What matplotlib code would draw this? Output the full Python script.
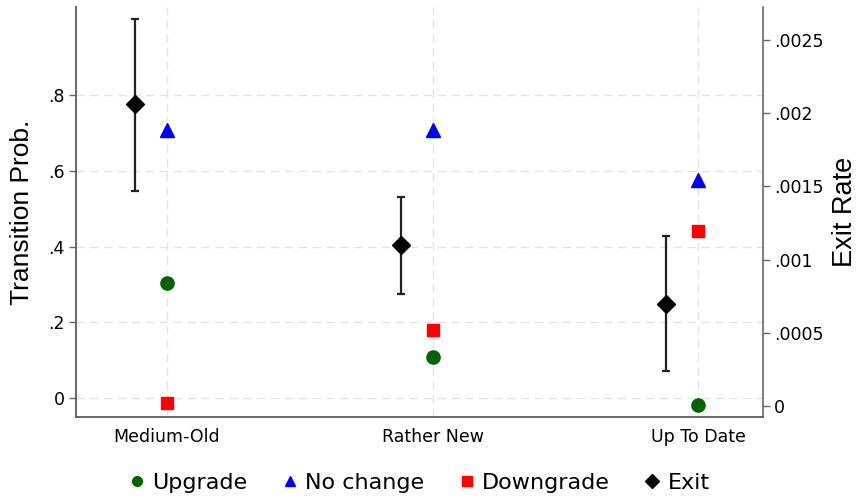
import numpy as np
import matplotlib
matplotlib.use("Agg")
import matplotlib.pyplot as plt
from matplotlib.lines import Line2D

categories = ["Medium-Old", "Rather New", "Up To Date"]
upgrade = [0.303, 0.110, -0.018]
no_change = [0.707, 0.707, 0.576]
downgrade = [-0.013, 0.179, 0.442]
exit_rate = [0.00206, 0.00110, 0.000697]
exit_lo = [0.00147, 0.000765, 0.000239]
exit_hi = [0.00264, 0.00143, 0.00116]

left_ticks = [0, 0.2, 0.4, 0.6, 0.8]
left_labels = ["0", ".2", ".4", ".6", ".8"]
right_ticks = [0, 0.0005, 0.001, 0.0015, 0.002, 0.0025]
right_labels = ["0", ".0005", ".001", ".0015", ".002", ".0025"]

green = "#006400"
spine_col = "#666666"

x = np.arange(1, len(categories) + 1)

fig = plt.figure(figsize=(8.6, 4.98), dpi=100)
ax = fig.add_axes([76 / 860, 1 - 417 / 498, (763 - 76) / 860, 410 / 498])

ax.plot(x, upgrade, "o", color=green, ms=9.5, zorder=3)
ax.plot(x, no_change, "^", color="blue", ms=10, zorder=3)
ax.plot(x, downgrade, "s", color="red", ms=9, zorder=3)

ax.set_xlim(0.657, 3.245)
ax.set_ylim(-0.049, 1.031)
ax.set_xticks(x)
ax.set_xticklabels(categories, fontsize=12.5)
ax.set_yticks(left_ticks)
ax.set_yticklabels(left_labels, fontsize=12.5)
ax.tick_params(axis="x", length=0, pad=8)
ax.tick_params(axis="y", length=5, width=1, color=spine_col, pad=3)
ax.grid(True, color="#e3e3e3", linestyle=(0, (6, 4)), linewidth=1)
ax.set_axisbelow(True)
ax.set_ylabel("Transition Prob.", fontsize=19, family="Liberation Sans", labelpad=10)

ax2 = ax.twinx()
err = [np.array(exit_rate) - np.array(exit_lo), np.array(exit_hi) - np.array(exit_rate)]
ax2.errorbar(x - 0.12, exit_rate, yerr=err, fmt="D", color="black", ms=9.5,
             ecolor="#222222", elinewidth=1.6, capsize=3, capthick=1.6, zorder=3)
ax2.set_ylim(-0.0000751, 0.002725)
ax2.set_yticks(right_ticks)
ax2.set_yticklabels(right_labels, fontsize=12.5)
ax2.tick_params(axis="y", length=5, width=1, color=spine_col, pad=3)
ax2.set_ylabel("Exit Rate", fontsize=19.5, family="Liberation Sans", labelpad=6)

for a in (ax, ax2):
    a.spines["top"].set_visible(False)
    for s in ("left", "right", "bottom"):
        a.spines[s].set_color(spine_col)
        a.spines[s].set_linewidth(1.2)
ax.spines["right"].set_visible(False)

handles = [
    Line2D([], [], marker="o", color=green, ls="none", ms=7),
    Line2D([], [], marker="^", color="blue", ls="none", ms=7),
    Line2D([], [], marker="s", color="red", ls="none", ms=7),
    Line2D([], [], marker="D", color="black", ls="none", ms=7),
]
fig.legend(handles, ["Upgrade", "No change", "Downgrade", "Exit"], loc="center",
           bbox_to_anchor=(419 / 860, 1 - 483 / 498), ncol=4, frameon=False,
           fontsize=16, handlelength=0.8, handletextpad=0.3, columnspacing=1.5)

fig.savefig("out.png", dpi=100)
